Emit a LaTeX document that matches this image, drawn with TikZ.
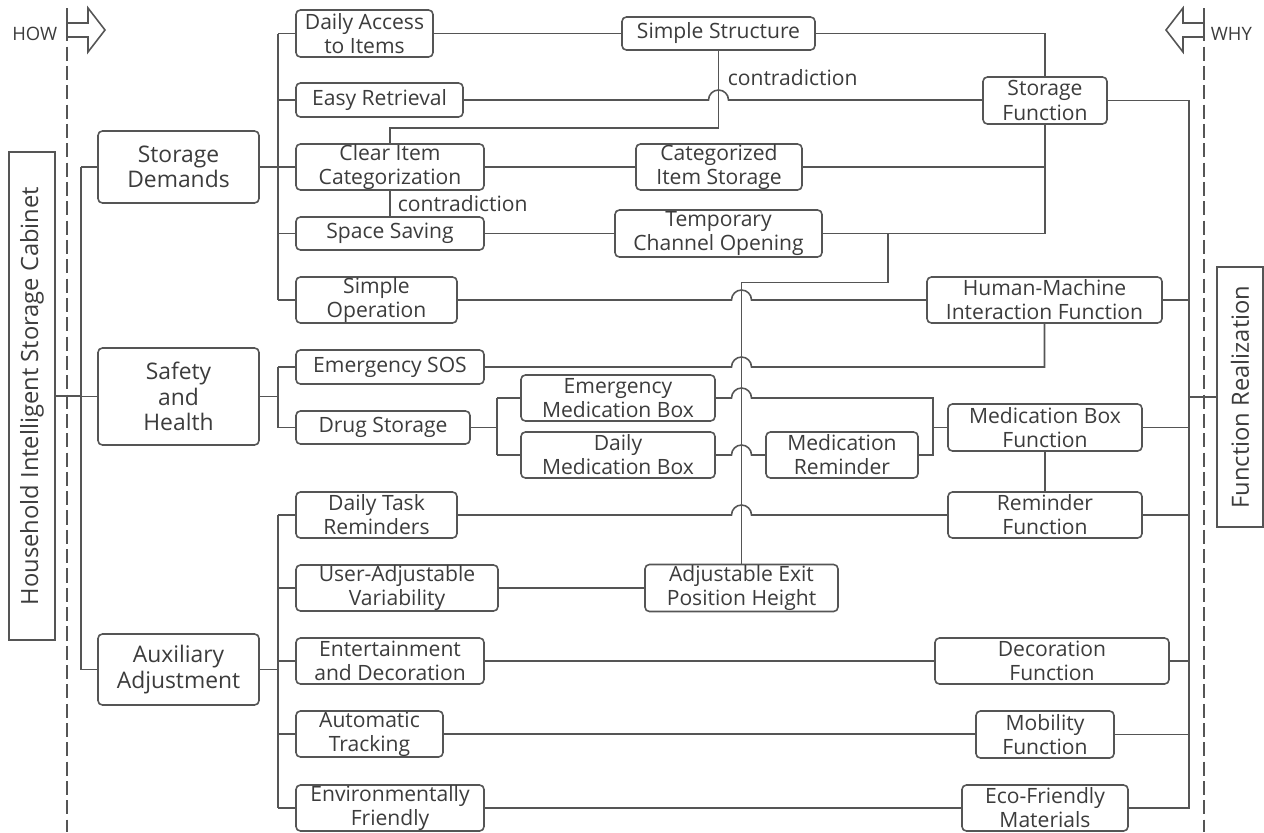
\documentclass[tikz,border=0pt]{standalone}
\usepackage{fontspec}
\setmainfont{Open Sans}
\usepackage{tikz}
\usetikzlibrary{calc}

\definecolor{lncol}{HTML}{555555}
\definecolor{txcol}{HTML}{3C3C3C}

\begin{document}
\begin{tikzpicture}[x=0.02cm, y=-0.02cm, line width=0.9pt,
    box/.style={draw=lncol, text=txcol, rounded corners=2.5pt, align=center, inner sep=0pt, font=\fontsize{12}{13.7}\selectfont},
    big/.style={box, font=\fontsize{13}{14.6}\selectfont},
    side/.style={box, rounded corners=0pt, rotate=90, font=\fontsize{13.5}{15}\selectfont},
    sz/.style 2 args={minimum width=#1*0.02cm, minimum height=#2*0.02cm},
    wire/.style={draw=lncol},
    guide/.style={draw=lncol, dash pattern=on 8pt off 3pt},
    note/.style={text=txcol, inner sep=0pt, font=\fontsize{12}{13.7}\selectfont},
    tag/.style={text=txcol, inner sep=0pt, font=\fontsize{10.5}{12}\selectfont}]

  \fill[white] (0,0) rectangle (1264,832);
  \useasboundingbox (0,0) rectangle (1264,832);

  \draw[guide] (67,8) -- (67,832);
  \draw[guide] (1204,8) -- (1204,832);
  \draw[wire, fill=white] (67,23) -- (88,23) -- (88,8) -- (105,30) -- (88,52) -- (88,37) -- (67,37) -- cycle;
  \draw[wire, fill=white] (1204,23) -- (1183,23) -- (1183,8) -- (1166,30) -- (1183,52) -- (1183,37) -- (1204,37) -- cycle;
  \node[tag, anchor=east] (how) at (58,34) {HOW};
  \node[tag, anchor=west] (why) at (1210,34) {WHY};

  \node[side, sz={488}{46}] (r0) at (32,396) {Household Intelligent Storage Cabinet};
  \node[side, sz={260}{46}] (fr) at (1240,397) {Function Realization};

  \node[big, sz={161}{72}] (l1) at (178.5,167) {Storage\\Demands};
  \node[big, sz={161}{97}] (l2) at (178.5,396.5) {Safety\\and\\Health};
  \node[big, sz={161}{71}] (l3) at (178.5,669.5) {Auxiliary\\Adjustment};

  \node[box, sz={137}{47}] (b1) at (364.5,33.5) {Daily Access\\to Items};
  \node[box, sz={167}{34}] (b2) at (379.5,100) {Easy Retrieval};
  \node[box, sz={188}{46}] (b3) at (390,167) {Clear Item\\Categorization};
  \node[box, sz={188}{33}] (b4) at (390,233.5) {Space Saving};
  \node[box, sz={161}{46}] (b5) at (376.5,300) {Simple\\Operation};
  \node[box, sz={188}{34}] (b6) at (390,367) {Emergency SOS};
  \node[box, sz={174}{33}] (b7) at (383,427.5) {Drug Storage};
  \node[box, sz={161}{46}] (b8) at (376.5,515) {Daily Task\\Reminders};
  \node[box, sz={202}{46}] (b9) at (397,588) {User-Adjustable\\Variability};
  \node[box, sz={188}{46}] (b10) at (390,661) {Entertainment\\and Decoration};
  \node[box, sz={147}{46}] (b11) at (369.5,734) {Automatic\\Tracking};
  \node[box, sz={188}{46}] (b12) at (390,808) {Environmentally\\Friendly};

  \node[box, sz={193}{33}] (m1) at (718.5,33.5) {Simple Structure};
  \node[box, sz={166}{46}] (m2) at (719,167) {Categorized\\Item Storage};
  \node[box, sz={207}{47}] (m3) at (718.5,233.5) {Temporary\\Channel Opening};
  \node[box, sz={194}{46}] (m4) at (618,398) {Emergency\\Medication Box};
  \node[box, sz={194}{46}] (m5) at (618,455) {Daily\\Medication Box};
  \node[box, sz={152}{46}] (m6) at (842,455) {Medication\\Reminder};
  \node[box, sz={193}{47}] (m7) at (741.5,588) {Adjustable Exit\\Position Height};

  \node[box, sz={124}{47}] (f1) at (1045,100.5) {Storage\\Function};
  \node[box, sz={235}{46}] (f2) at (1044.5,300) {Human-Machine\\Interaction Function};
  \node[box, sz={194}{47}] (f3) at (1045,427.5) {Medication Box\\Function};
  \node[box, sz={194}{46}] (f4) at (1045,515) {Reminder\\Function};
  \node[box, sz={234}{46}] (f5) at (1052,661) {Decoration\\Function};
  \node[box, sz={138}{47}] (f6) at (1045,734.5) {Mobility\\Function};
  \node[box, sz={166}{46}] (f7) at (1045,808) {Eco-Friendly\\Materials};

  \node[note, anchor=west] (t1) at (727,77.5) {contradiction};
  \node[note, anchor=west] (t2) at (397,204) {contradiction};

  \coordinate (lt) at (81,396);
  \coordinate (rt) at (1189,397);
  \draw[wire] (r0.south) -- (lt |- r0.south);
  \draw[wire] (lt |- l1.west) -- (lt |- l3.west);
  \foreach \i in {1,2,3}
    \draw[wire] (lt |- l\i.west) -- (l\i.west);

  \draw[wire] (l1.east) -- ++(18,0) coordinate (k1);
  \draw[wire] (k1 |- b1.west) -- (k1 |- b5.west);
  \foreach \i in {1,...,5}
    \draw[wire] (k1 |- b\i.west) -- (b\i.west);
  \draw[wire] (l2.east) -- ++(18,0) coordinate (k2);
  \draw[wire] (k2 |- b6.west) -- (k2 |- b7.west);
  \foreach \i in {6,7}
    \draw[wire] (k2 |- b\i.west) -- (b\i.west);
  \draw[wire] (l3.east) -- ++(18,0) coordinate (k3);
  \draw[wire] (k3 |- b8.west) -- (k3 |- b12.west);
  \foreach \i in {8,...,12}
    \draw[wire] (k3 |- b\i.west) -- (b\i.west);
  \draw[wire] (b7.east) -- ++(26,0) coordinate (k4);
  \draw[wire] (k4 |- m4.west) -- (k4 |- m5.west);
  \draw[wire] (k4 |- m4.west) -- (m4.west);
  \draw[wire] (k4 |- m5.west) -- (m5.west);

  \draw[wire] (b1.east) -- (b1.east -| m1.west);
  \draw[wire] (m1.east) -| (f1.north);
  \draw[wire] (b2.east) -- ($(m1.south |- b2.east)+(-10,0)$) arc[start angle=180, end angle=0, radius=0.2cm] -- (b2.east -| f1.west);
  \draw[wire] (m1.south) -- ++(0,77) -| (b3.north);
  \draw[wire] (b3.south) -- (b4.north);
  \draw[wire] (b3.east) -- (b3.east -| m2.west);
  \draw[wire] (m2.east) -- (m2.east -| f1.south);
  \draw[wire] (b4.east) -- (b4.east -| m3.west);
  \draw[wire] (m3.east) -- (m3.east -| f1.south) -- (f1.south);
  \draw[wire] ($(m3.east)+(65,0)$) -- ++(0,49) -| (m7.north);

  \draw[wire] (b5.east) -- ($(m7.north |- b5.east)+(-10,0)$) arc[start angle=180, end angle=0, radius=0.2cm] -- (b5.east -| f2.west);
  \draw[wire] (b6.east) -- ($(m7.north |- b6.east)+(-10,0)$) arc[start angle=180, end angle=0, radius=0.2cm] -- (b6.east -| f2.south) -- (f2.south);
  \coordinate (q) at (933,427.5);
  \draw[wire] (m4.east) -- ($(m7.north |- m4.east)+(-10,0)$) arc[start angle=180, end angle=0, radius=0.2cm] -- (q |- m4.east) -- (q |- m6.east) -- (m6.east);
  \draw[wire] (q |- f3.west) -- (f3.west);
  \draw[wire] (m5.east) -- ($(m7.north |- m5.east)+(-10,0)$) arc[start angle=180, end angle=0, radius=0.2cm] -- (m6.west);
  \draw[wire] (f3.south) -- (f4.north);
  \draw[wire] (b8.east) -- ($(m7.north |- b8.east)+(-10,0)$) arc[start angle=180, end angle=0, radius=0.2cm] -- (b8.east -| f4.west);
  \draw[wire] (b9.east) -- (b9.east -| m7.west);
  \draw[wire] (b10.east) -- (b10.east -| f5.west);
  \draw[wire] (b11.east) -- (b11.east -| f6.west);
  \draw[wire] (b12.east) -- (b12.east -| f7.west);

  \draw[wire] (f1.east) -| (rt |- f7.east) -- (f7.east);
  \foreach \i in {2,...,6}
    \draw[wire] (f\i.east) -- (rt |- f\i.east);
  \draw[wire] (rt |- fr.north) -- (fr.north);

\end{tikzpicture}
\end{document}
